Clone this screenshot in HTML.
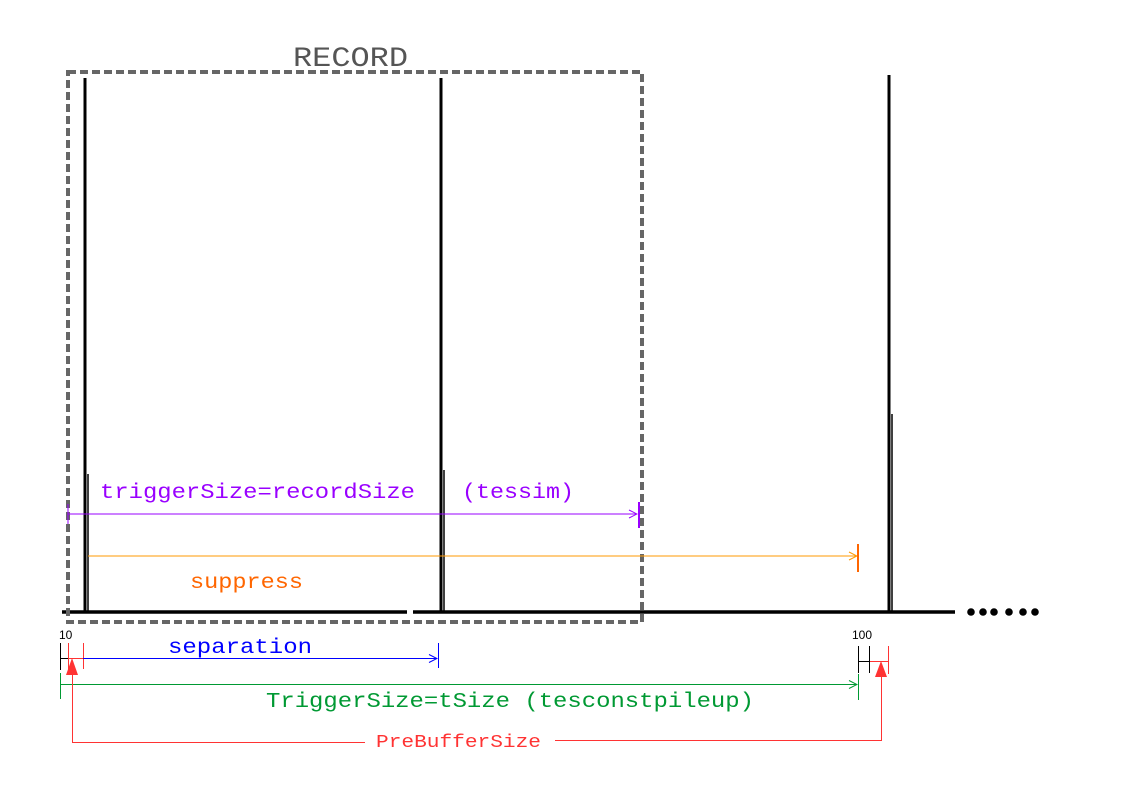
<!DOCTYPE html>
<html><head><meta charset="utf-8"><style>
html,body{margin:0;padding:0;background:#fff;width:1123px;height:794px;overflow:hidden}
svg{display:block}
text{font-family:"Liberation Mono",monospace}
</style></head><body>
<svg id="chart" width="1123" height="794" viewBox="0 0 1123 794">
<defs>
<marker id="ap" markerWidth="10" markerHeight="10" refX="9" refY="5" orient="auto" markerUnits="userSpaceOnUse"><path d="M1,1 L9,5 L1,9" fill="none" stroke="#9900ff" stroke-width="1"/></marker>
<marker id="ao" markerWidth="10" markerHeight="10" refX="9" refY="5" orient="auto" markerUnits="userSpaceOnUse"><path d="M1,1 L9,5 L1,9" fill="none" stroke="#ff9900" stroke-width="1"/></marker>
<marker id="ab" markerWidth="10" markerHeight="10" refX="9" refY="5" orient="auto" markerUnits="userSpaceOnUse"><path d="M1,1 L9,5 L1,9" fill="none" stroke="#0000ff" stroke-width="1"/></marker>
<marker id="ag" markerWidth="10" markerHeight="10" refX="9" refY="5" orient="auto" markerUnits="userSpaceOnUse"><path d="M1,1 L9,5 L1,9" fill="none" stroke="#009933" stroke-width="1"/></marker>
</defs>
<g id="baseline-group">
<line x1="62" y1="612" x2="955" y2="612" stroke="#000" stroke-width="3.5" stroke-dasharray="345,6,600"/>
</g>
<g id="pulses"></g>
<g id="dots"></g>
<rect x="68" y="72" width="574" height="550" fill="none" stroke="#666" stroke-width="4" stroke-dasharray="8,4"/>
<text x="293" y="66" font-size="28" fill="#555" textLength="115" lengthAdjust="spacingAndGlyphs">RECORD</text>

<g>
<line x1="68" y1="504" x2="68" y2="524" stroke="#9900ff" stroke-width="1"/>
<line x1="68" y1="514" x2="637" y2="514" stroke="#9900ff" stroke-width="1" marker-end="url(#ap)"/>
<line x1="639" y1="502" x2="639" y2="528" stroke="#9900ff" stroke-width="2"/>
</g>
<text x="100" y="498" font-size="21" fill="#9900ff" textLength="315" lengthAdjust="spacingAndGlyphs">triggerSize=recordSize</text>
<text x="462" y="498" font-size="21" fill="#9900ff" textLength="112" lengthAdjust="spacingAndGlyphs">(tessim)</text>

<g>
<line x1="88" y1="556" x2="857" y2="556" stroke="#ff9900" stroke-width="1" marker-end="url(#ao)"/>
<line x1="858" y1="544" x2="858" y2="572" stroke="#ff6600" stroke-width="2"/>
</g>
<text x="190" y="588" font-size="21" fill="#ff6600" textLength="113" lengthAdjust="spacingAndGlyphs">suppress</text>

<text x="59" y="639" font-size="12" fill="#000" style="font-family:'Liberation Sans',sans-serif">10</text>
<text x="852" y="639" font-size="12" fill="#000" style="font-family:'Liberation Sans',sans-serif">100</text>

<g>
<line x1="60.5" y1="643" x2="60.5" y2="670" stroke="#000"/>
<line x1="60" y1="658.5" x2="69" y2="658.5" stroke="#000"/>
<line x1="68.5" y1="643" x2="68.5" y2="670" stroke="#ff3333"/>
<line x1="68" y1="658.5" x2="83" y2="658.5" stroke="#ff3333"/>
<line x1="83.5" y1="643" x2="83.5" y2="669" stroke="#ff3333"/>
</g>
<g>
<line x1="83" y1="658.5" x2="437" y2="658.5" stroke="#0000ff" stroke-width="1" marker-end="url(#ab)"/>
<line x1="438.5" y1="643" x2="438.5" y2="668" stroke="#0000ff"/>
</g>
<text x="168" y="653" font-size="21" fill="#0000ff" textLength="144" lengthAdjust="spacingAndGlyphs">separation</text>

<g>
<line x1="60.5" y1="673" x2="60.5" y2="699" stroke="#009933"/>
<line x1="61" y1="684.5" x2="857" y2="684.5" stroke="#009933" stroke-width="1" marker-end="url(#ag)"/>
<line x1="858.5" y1="674" x2="858.5" y2="700" stroke="#009933"/>
</g>
<text x="266" y="707" font-size="21" fill="#009933" textLength="488" lengthAdjust="spacingAndGlyphs">TriggerSize=tSize (tesconstpileup)</text>

<g>
<line x1="858.5" y1="646" x2="858.5" y2="673" stroke="#000"/>
<line x1="869.5" y1="646" x2="869.5" y2="673" stroke="#000"/>
<line x1="858" y1="661.5" x2="870" y2="661.5" stroke="#000"/>
<line x1="870" y1="661.5" x2="888" y2="661.5" stroke="#ff3333"/>
<line x1="888.5" y1="646" x2="888.5" y2="674" stroke="#ff3333"/>
</g>

<g>
<polygon points="72,658 66,675 78,675" fill="#ff3333"/>
<polyline points="72.5,672 72.5,742.5 365,742.5" fill="none" stroke="#ff3333"/>
<polyline points="555,740.5 881.5,740.5 881.5,672" fill="none" stroke="#ff3333"/>
<polygon points="881,661 875,677 887,677" fill="#ff3333"/>
</g>
<text x="376" y="747" font-size="18" fill="#ff3333" textLength="165" lengthAdjust="spacingAndGlyphs">PreBufferSize</text>
</svg>
<script>
// pulse data: x positions (px along the time axis) and peak y (top)
const pulseX = [85, 441, 889];
const pulseTop = [78, 78, 75];
const pulseShoulder = [474, 470, 414];
const dotX = [971, 983, 994, 1009, 1023, 1035];
const baseY = 612;
const ns = 'http://www.w3.org/2000/svg';
const pg = document.getElementById('pulses');
pulseX.forEach((x, i) => {
  const l = document.createElementNS(ns, 'line');
  l.setAttribute('x1', x); l.setAttribute('x2', x);
  l.setAttribute('y1', pulseTop[i]); l.setAttribute('y2', baseY);
  l.setAttribute('stroke', '#000'); l.setAttribute('stroke-width', 3);
  
  
  pg.appendChild(l);
  const t = document.createElementNS(ns, 'line');
  t.setAttribute('x1', x + 3); t.setAttribute('x2', x + 3);
  t.setAttribute('y1', pulseShoulder[i]); t.setAttribute('y2', baseY);
  t.setAttribute('stroke', '#000'); t.setAttribute('stroke-width', 1.5);
  
  
  pg.appendChild(t);
});
const dg = document.getElementById('dots');
dotX.forEach(x => {
  const c = document.createElementNS(ns, 'circle');
  c.setAttribute('cx', x); c.setAttribute('cy', baseY);
  c.setAttribute('r', 3.8); c.setAttribute('fill', '#000');
  
  
  dg.appendChild(c);
});
</script>
</body></html>
